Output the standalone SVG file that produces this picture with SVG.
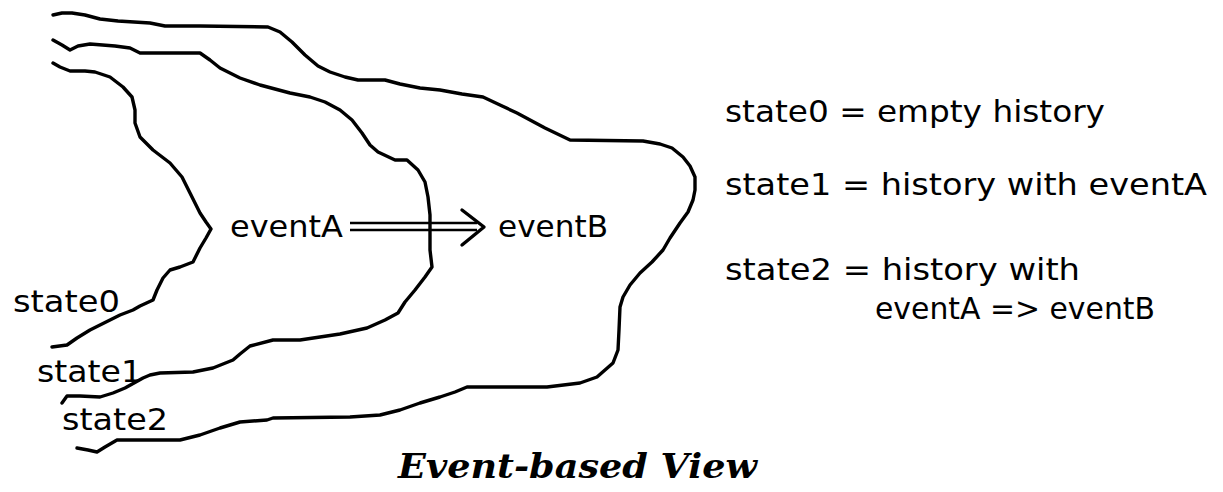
<svg xmlns="http://www.w3.org/2000/svg" width="1223" height="492" viewBox="0 0 1223 492">
<style>
.c{fill:none;stroke:#000;stroke-width:3.4;stroke-linejoin:round;stroke-linecap:round}
.a{fill:none;stroke:#000;stroke-width:2.4;stroke-linejoin:miter}
.t{font-family:"DejaVu Sans","Liberation Sans",sans-serif;font-size:30px;fill:#000}
.h{font-family:"DejaVu Serif","Liberation Serif",serif;font-size:33px;font-weight:bold;font-style:italic;fill:#000}
</style>
<rect width="1223" height="492" fill="#fff"/>
<g id="connectors">
<polyline id="curve-state2" class="c" points="53,15 62,13 72,13 85,15 100,19 118,21 150,23 165,26 200,26 268,27 280,32 292,42 305,55 318,66 330,72 345,77 358,80 385,80 400,84 420,88 440,90 462,94 483,97 500,105 517,113 545,128 570,140 643,141 660,144 672,148 683,157 690,166 695,177 695,190 693,200 688,212 680,223 670,238 663,250 652,262 640,273 630,285 623,297 620,307 619,330 618,350 613,363 605,370 597,377 580,383 547,387 520,387 467,387 455,392 440,397 420,403 400,410 380,415 350,417 273,418 267,420 240,422 220,428 200,435 180,440 150,440 117,440 105,447 97,452 88,450 77,448"/>
<polyline id="curve-state1" class="c" points="53,40 62,45 70,50 78,46 90,44 115,46 130,48 140,53 170,53 200,53 210,60 220,68 240,78 260,85 290,93 310,97 325,102 340,110 352,120 362,133 370,145 378,152 395,160 407,160 418,170 425,182 428,197 430,215 430,250 432,267 425,277 415,290 405,302 398,313 385,320 367,328 340,334 300,340 273,340 250,346 240,354 233,360 213,368 193,372 160,373 150,375 143,378 125,388 113,393 100,397 80,396 67,396 62,403"/>
<polyline id="curve-state0" class="c" points="53,63 60,67 70,71 85,71 95,72 110,77 123,87 132,97 135,110 135,123 140,137 153,150 170,163 182,177 190,193 200,213 206,222 211,229 206,238 200,248 193,262 180,267 170,270 163,278 157,290 153,300 140,306 133,310 120,315 110,320 90,330 77,338 67,345 52,347"/>
<g id="arrow-AB">
<line class="a" x1="350" y1="223" x2="477" y2="223"/>
<line class="a" x1="350" y1="230" x2="477" y2="230"/>
<polyline class="c" points="462,210 484,227 462,245"/>
</g>
</g>
<g id="node-eventA"><text class="t" x="230" y="237" textLength="113" lengthAdjust="spacingAndGlyphs">eventA</text></g>
<g id="node-eventB"><text class="t" x="498" y="237" textLength="110" lengthAdjust="spacingAndGlyphs">eventB</text></g>
<g id="label-state0"><text class="t" x="13" y="312" textLength="107" lengthAdjust="spacingAndGlyphs">state0</text></g>
<g id="label-state1"><text class="t" x="37" y="382" textLength="105" lengthAdjust="spacingAndGlyphs">state1</text></g>
<g id="label-state2"><text class="t" x="62" y="430" textLength="106" lengthAdjust="spacingAndGlyphs">state2</text></g>
<g id="legend">
<text class="t" x="725" y="122" textLength="380" lengthAdjust="spacingAndGlyphs">state0 = empty history</text>
<text class="t" x="725" y="195" textLength="482" lengthAdjust="spacingAndGlyphs">state1 = history with eventA</text>
<text class="t" x="725" y="280" textLength="355" lengthAdjust="spacingAndGlyphs">state2 = history with</text>
<text class="t" x="875" y="319" textLength="280" lengthAdjust="spacingAndGlyphs">eventA =&gt; eventB</text>
</g>
<g id="title"><text class="h" x="398" y="478" textLength="359" lengthAdjust="spacingAndGlyphs">Event-based View</text></g>
</svg>
